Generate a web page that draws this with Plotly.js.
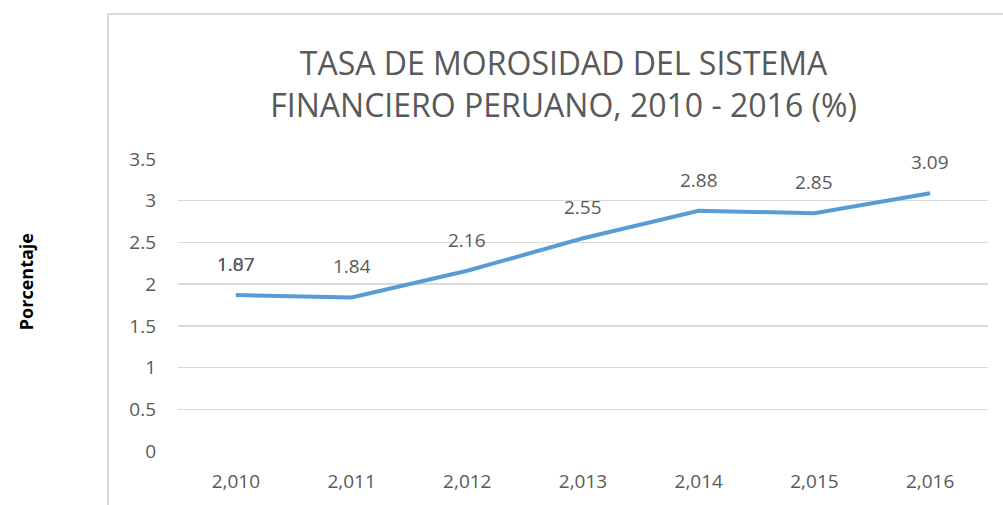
<!DOCTYPE html>
<html><head><meta charset="utf-8">
<script src="https://cdn.plot.ly/plotly-3.0.1.min.js"></script>
<style>html,body{margin:0;padding:0;background:#fff}#chart{width:1003px;height:505px}</style>
</head><body><div id="chart"></div>
<script>
const years = ["2,010","2,011","2,012","2,013","2,014","2,015","2,016"];
const morosidad = [1.87, 1.84, 2.16, 2.55, 2.88, 2.85, 3.09];
const labels = ["1.87","1.84","2.16","2.55","2.88","2.85","3.09"];
const overlapLabels = ["1.07","","","","","",""];
const yTicks = [0,0.5,1,1.5,2,2.5,3,3.5];
const yTickText = ["0","0.5","1","1.5","2","2.5","3","3.5"];

const gray = '#595959';
const font = 'Open Sans, Liberation Sans, sans-serif';
const traces = [
  {x: years, y: morosidad, type:'scatter', mode:'lines',
   line:{color:'#5b9bd5', width:4}, hoverinfo:'skip', showlegend:false}
];
const annotations = [];
years.forEach((yr,i)=>{
  [labels[i], overlapLabels[i]].forEach(t=>{
    if(!t) return;
    annotations.push({x:yr, y:morosidad[i], xref:'x', yref:'y', text:t, showarrow:false,
      yshift:31, font:{family:font,size:19,color:gray}});
  });
});
const layout = {
  width:1003, height:505,
  margin:{l:178, r:15, t:159, b:54},
  paper_bgcolor:'#fff', plot_bgcolor:'#fff',
  title:{text:'TASA DE MOROSIDAD DEL SISTEMA<br>FINANCIERO PERUANO, 2010 - 2016 (%)',
    font:{family:font, size:32, color:gray}, xref:'paper', x:0.476, xanchor:'center',
    yref:'container', y:1-75/505, yanchor:'middle'},
  xaxis:{type:'category', range:[-0.5,6.5], showgrid:false, zeroline:false, showline:false,
    ticks:'', tickfont:{family:font,size:19,color:gray}, ticklabelstandoff:17},
  yaxis:{range:[0,3.5], tickvals:yTicks, ticktext:yTickText, showgrid:true, gridcolor:'#d9d9d9', gridwidth:1.5,
    zeroline:false, showline:false, ticks:'', tickfont:{family:font,size:19,color:gray}, ticklabelstandoff:21,
    title:{text:'&nbsp;&nbsp;&nbsp;&nbsp;&nbsp;&nbsp;&nbsp;&nbsp;&nbsp;&nbsp;<b>Porcentaje</b>', font:{family:font,size:18,color:'#000'}, standoff:90}},
  annotations: annotations,
  shapes:[
    {type:'line', xref:'paper', yref:'paper', x0:(108-178)/810, x1:(1003-178)/810, y0:(451-14)/292, y1:(451-14)/292, line:{color:'#d9d9d9', width:2}},
    {type:'line', xref:'paper', yref:'paper', x0:(108-178)/810, x1:(108-178)/810, y0:(451-14)/292, y1:(451-520)/292, line:{color:'#d9d9d9', width:2}}
  ]
};
Plotly.newPlot('chart', traces, layout, {staticPlot:true, displayModeBar:false});
</script></body></html>
